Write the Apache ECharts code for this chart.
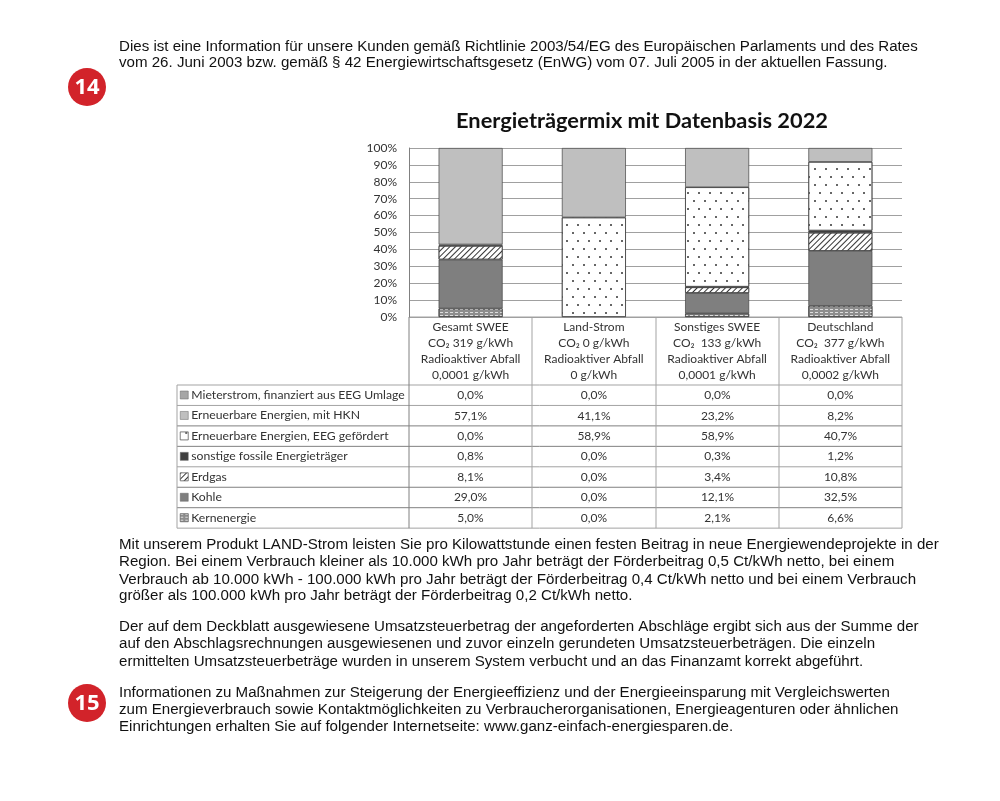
<!DOCTYPE html>
<html><head><meta charset="utf-8">
<style>html,body{margin:0;padding:0;background:#fff}#c{width:1000px;height:801px}</style>
<script src="https://cdn.jsdelivr.net/npm/echarts@6/dist/echarts.min.js"></script>
</head><body><div id="c"></div>
<script>
const categories = [
  'Gesamt SWEE\nCO₂ 319 g/kWh\nRadioaktiver Abfall\n0,0001 g/kWh',
  'Land-Strom\nCO₂ 0 g/kWh\nRadioaktiver Abfall\n0 g/kWh',
  'Sonstiges SWEE\nCO₂  133 g/kWh\nRadioaktiver Abfall\n0,0001 g/kWh',
  'Deutschland\nCO₂  377 g/kWh\nRadioaktiver Abfall\n0,0002 g/kWh'];
const kernenergie = [5.0, 0.0, 2.1, 6.6];
const kohle = [29.0, 0.0, 12.1, 32.5];
const erdgas = [8.1, 0.0, 3.4, 10.8];
const sonstigeFossile = [0.8, 0.0, 0.3, 1.2];
const eegGefoerdert = [0.0, 58.9, 58.9, 40.7];
const mitHKN = [57.1, 41.1, 23.2, 8.2];
const mieterstrom = [0.0, 0.0, 0.0, 0.0];
const paragraphs = [
  [['Dies ist eine Information für unsere Kunden gemäß Richtlinie 2003/54/EG des Europäischen Parlaments und des Rates',46.5],
   ['vom 26. Juni 2003 bzw. gemäß § 42 Energiewirtschaftsgesetz (EnWG) vom 07. Juli 2005 in der aktuellen Fassung.',62.5]],
  [['Mit unserem Produkt LAND-Strom leisten Sie pro Kilowattstunde einen festen Beitrag in neue Energiewendeprojekte in der',545],
   ['Region. Bei einem Verbrauch kleiner als 10.000 kWh pro Jahr beträgt der Förderbeitrag 0,5 Ct/kWh netto, bei einem',562],
   ['Verbrauch ab 10.000 kWh - 100.000 kWh pro Jahr beträgt der Förderbeitrag 0,4 Ct/kWh netto und bei einem Verbrauch',579.5],
   ['größer als 100.000 kWh pro Jahr beträgt der Förderbeitrag 0,2 Ct/kWh netto.',596]],
  [['Der auf dem Deckblatt ausgewiesene Umsatzsteuerbetrag der angeforderten Abschläge ergibt sich aus der Summe der',627],
   ['auf den Abschlagsrechnungen ausgewiesenen und zuvor einzeln gerundeten Umsatzsteuerbeträgen. Die einzeln',644],
   ['ermittelten Umsatzsteuerbeträge wurden in unserem System verbucht und an das Finanzamt korrekt abgeführt.',661.5]],
  [['Informationen zu Maßnahmen zur Steigerung der Energieeffizienz und der Energieeinsparung mit Vergleichswerten',693],
   ['zum Energieverbrauch sowie Kontaktmöglichkeiten zu Verbraucherorganisationen, Energieagenturen oder ähnlichen',710],
   ['Einrichtungen erhalten Sie auf folgender Internetseite: www.ganz-einfach-energiesparen.de.',727]]
];
const FONT = 'Lato', BODY = '"Liberation Sans"';
const dots = {symbol:'rect',symbolSize:1,color:'#666',dashArrayX:[[1.5,9],[0,5,1.5,4]],dashArrayY:[1.5,5.5],rotation:0};
const hatch = {symbol:'rect',symbolSize:1,color:'#333',dashArrayX:[[1,0]],dashArrayY:[1,2.2],rotation:-Math.PI/4};
const weave = {symbol:'rect',symbolSize:1,color:'#dcdcdc',dashArrayX:[[3,2]],dashArrayY:[1,2],rotation:0};
const seriesDefs = [
  ['Kernenergie',kernenergie,'#8c8c8c',weave],
  ['Kohle',kohle,'#7f7f7f',null],
  ['Erdgas',erdgas,'#ffffff',hatch],
  ['sonstige fossile Energieträger',sonstigeFossile,'#404040',null],
  ['Erneuerbare Energien, EEG gefördert',eegGefoerdert,'#ffffff',dots],
  ['Erneuerbare Energien, mit HKN',mitHKN,'#bfbfbf',null],
  ['Mieterstrom, finanziert aus EEG Umlage',mieterstrom,'#a6a6a6',null]
];
const series = seriesDefs.map(([name,vals,color,decal]) => ({
  name, type:'bar', stack:'mix', barWidth:64,
  data: vals.map(v => v === 0 ? '-' : v),
  itemStyle:Object.assign({color, borderColor:'#444', borderWidth:0.7}, decal ? {decal} : {})
}));

const tX = [177,409,532,656,779,902];
const hTop = 317, rowTop = 385, rowH = 20.45;
const lineC = '#a3a3a3';
const graphic = [];
const ln = (x1,y1,x2,y2,stroke) => graphic.push({type:'line',silent:true,shape:{x1,y1,x2,y2},style:{stroke:stroke||lineC,lineWidth:1}});
const rowsTop2Bottom = seriesDefs.slice().reverse();
for (let i=0;i<=rowsTop2Bottom.length;i++) ln(tX[0],rowTop+i*rowH,tX[5],rowTop+i*rowH,(i>=2&&i<=6&&i!=4)?'#808080':lineC);
ln(tX[1],hTop,tX[5],hTop);
ln(tX[0],rowTop,tX[0],rowTop+7*rowH);
for (let c=1;c<=5;c++) ln(tX[c],hTop,tX[c],rowTop+7*rowH,c===1?'#808080':lineC);
rowsTop2Bottom.forEach((d,i)=>{
  d[1].forEach((v,c)=>{
    graphic.push({type:'text',silent:true,x:(tX[c+1]+tX[c+2])/2,y:rowTop+(i+0.5)*rowH,
      style:{text:v.toFixed(1).replace('.',',')+'%',font:'12px '+FONT,fill:'#333',align:'center',verticalAlign:'middle'}});
  });
});
paragraphs.forEach(p=>p.forEach(([text,y])=>{
  graphic.push({type:'text',silent:true,x:119,y,style:{text,font:'15.1px '+BODY,fill:'#111',align:'left',verticalAlign:'middle'}});
}));
[['14',87],['15',703]].forEach(([t,y])=>{
  graphic.push({type:'circle',silent:true,shape:{cx:87,cy:y,r:19},style:{fill:'#d2232a'}});
  graphic.push({type:'text',silent:true,x:87,y:y+1,style:{text:t,font:'bold 22px "Open Sans"',fill:'#fff',align:'center',verticalAlign:'middle'}});
});

const legends = rowsTop2Bottom.map((d,i)=>({
  show:true,data:[d[0]],left:tX[0]+3,top:rowTop+i*rowH+4,itemWidth:8,itemHeight:8,itemGap:3,selectedMode:false,
  icon:'rect',padding:0,itemStyle:{borderColor:'#666',borderWidth:0.5},
  textStyle:{fontFamily:FONT,fontSize:12.2,color:'#333',padding:[0,0,0,-2]}
}));

const chart = echarts.init(document.getElementById('c'),null,{renderer:'canvas'});
chart.setOption({
  animation:false,backgroundColor:'#fff',
  title:{text:'Energieträgermix mit Datenbasis 2022',left:637,top:105,textAlign:'center',
    textStyle:{fontFamily:FONT,fontWeight:'bold',fontSize:21.8,color:'#111'}},
  legend:legends,
  grid:{left:409,top:148,width:493,height:169,containLabel:false},
  xAxis:{type:'category',data:categories,axisTick:{show:false},axisLine:{show:false},
    axisLabel:{interval:0,margin:2,fontFamily:FONT,fontSize:12,lineHeight:16,color:'#333',align:'center'}},
  yAxis:{type:'value',min:0,max:100,interval:10,
    axisLine:{show:true,lineStyle:{color:'#808080'}},axisTick:{show:false},
    axisLabel:{formatter:'{value}%',margin:12,fontFamily:FONT,fontSize:12,color:'#333'},
    splitLine:{lineStyle:{color:'#a0a0a0',width:1}}},
  series,graphic
});
</script></body></html>
